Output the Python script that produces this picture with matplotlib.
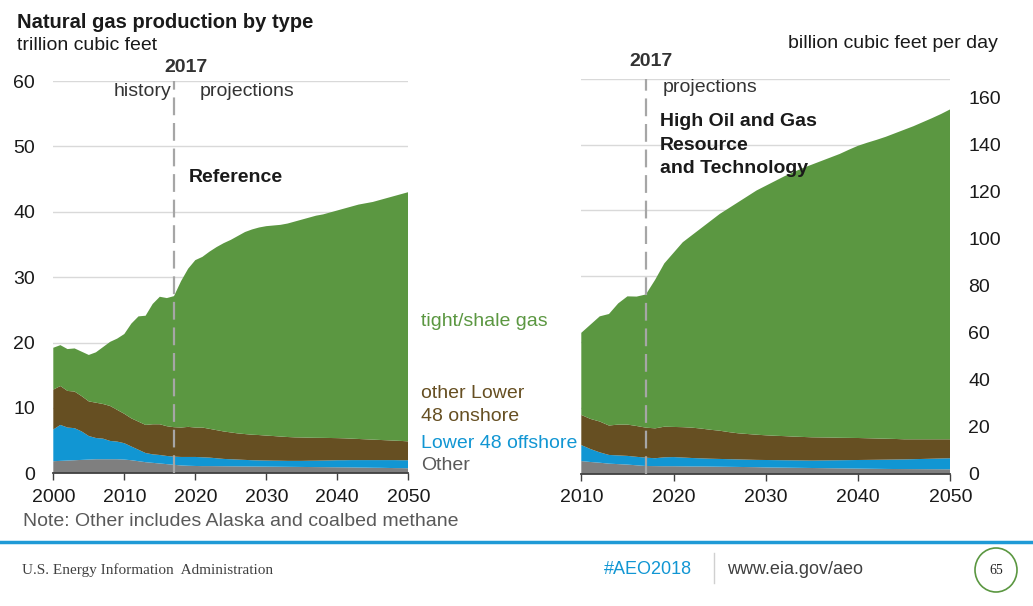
import numpy as np
import matplotlib
matplotlib.use("Agg")
import matplotlib.pyplot as plt
from matplotlib.patches import Ellipse

plt.rcParams['font.family'] = ['Liberation Sans', 'DejaVu Sans']

# ---- reference case, trillion cubic feet ----
years_ref = list(range(2000, 2051))
other_ref = [1.85, 1.9, 1.95, 2.0, 2.05, 2.1, 2.15, 2.15, 2.15, 2.15,
             2.1, 2.0, 1.85, 1.7, 1.6, 1.5, 1.4, 1.3, 1.2, 1.15,
             1.12, 1.1, 1.1, 1.09, 1.08, 1.07, 1.06, 1.05, 1.04, 1.03,
             1.02, 1.01, 1.0, 0.99, 0.98, 0.97, 0.96, 0.95, 0.94, 0.93,
             0.92, 0.91, 0.9, 0.88, 0.87, 0.85, 0.84, 0.82, 0.8, 0.79, 0.77]
offshore_ref = [4.85, 5.5, 5.05, 4.9, 4.35, 3.6, 3.25, 3.15, 2.8, 2.7,
                2.5, 2.1, 1.75, 1.4, 1.3, 1.3, 1.25, 1.25, 1.3, 1.35,
                1.38, 1.35, 1.3, 1.21, 1.12, 1.08, 1.04, 1.0, 0.96, 0.94,
                0.93, 0.92, 0.92, 0.91, 0.92, 0.93, 0.96, 0.98, 1.01, 1.04,
                1.08, 1.09, 1.12, 1.14, 1.15, 1.17, 1.18, 1.2, 1.22, 1.21, 1.23]
onshore_ref = [6.1, 5.95, 5.6, 5.6, 5.4, 5.3, 5.4, 5.3, 5.35, 4.85,
               4.5, 4.3, 4.3, 4.3, 4.6, 4.7, 4.55, 4.5, 4.5, 4.6,
               4.5, 4.55, 4.4, 4.3, 4.2, 4.1, 4.0, 3.95, 3.9, 3.88,
               3.82, 3.77, 3.7, 3.65, 3.6, 3.58, 3.53, 3.5, 3.47, 3.43,
               3.38, 3.35, 3.28, 3.23, 3.18, 3.13, 3.08, 3.03, 2.98, 2.95, 2.88]
shale_ref = [6.4, 6.25, 6.4, 6.6, 6.8, 7.1, 7.7, 8.7, 9.8, 10.9,
             12.2, 14.5, 16.1, 16.7, 18.4, 19.5, 19.6, 20.05, 22.4, 24.2,
             25.6, 26.1, 27.1, 28.0, 28.8, 29.45, 30.2, 30.9, 31.4, 31.75,
             32.03, 32.2, 32.38, 32.65, 33.0, 33.32, 33.65, 33.97, 34.18, 34.5,
             34.82, 35.15, 35.5, 35.85, 36.1, 36.35, 36.7, 37.05, 37.4, 37.75, 38.12]

# ---- high oil and gas resource case, billion cubic feet per day ----
years_hog = list(range(2010, 2051))
other_hog = [5.5, 5.1, 4.8, 4.4, 4.2, 4.0, 3.7, 3.4, 3.35, 3.3,
             3.3, 3.25, 3.2, 3.2, 3.15, 3.1, 3.05, 3.0, 2.95, 2.9,
             2.8, 2.75, 2.7, 2.65, 2.6, 2.55, 2.5, 2.45, 2.4, 2.35,
             2.3, 2.25, 2.2, 2.15, 2.12, 2.1, 2.08, 2.06, 2.04, 2.02, 2.0]
offshore_hog = [6.8, 5.5, 4.4, 3.7, 3.7, 3.7, 3.6, 3.55, 3.35, 3.8,
                3.9, 3.75, 3.6, 3.45, 3.35, 3.3, 3.25, 3.2, 3.15, 3.1,
                3.15, 3.15, 3.15, 3.15, 3.15, 3.15, 3.25, 3.35, 3.45, 3.55,
                3.65, 3.75, 3.85, 3.95, 4.03, 4.1, 4.22, 4.34, 4.46, 4.58, 4.7]
onshore_hog = [12.8, 12.8, 13.1, 12.5, 13.1, 13.3, 13.1, 12.75, 12.7, 13.0,
               12.8, 12.9, 12.9, 12.65, 12.3, 12.0, 11.5, 11.1, 10.9, 10.7,
               10.5, 10.35, 10.25, 10.1, 10.0, 9.9, 9.8, 9.7, 9.55, 9.45,
               9.35, 9.2, 9.05, 8.9, 8.75, 8.55, 8.45, 8.35, 8.25, 8.15, 8.05]
shale_hog = [34.9, 40.1, 44.7, 47.4, 51.5, 54.5, 55.0, 56.6, 63.1, 69.4,
             74.0, 78.6, 81.8, 85.2, 88.7, 92.1, 95.2, 98.2, 101.0, 103.8,
             106.05, 108.25, 110.4, 112.4, 114.25, 115.9, 117.45, 119.0, 120.6, 122.45,
             124.2, 125.6, 126.9, 128.3, 129.9, 131.55, 133.05, 134.75, 136.45, 138.25, 140.25]

tcf_ticks = [0, 10, 20, 30, 40, 50, 60]
bcfd_ticks = [0, 20, 40, 60, 80, 100, 120, 140, 160]

colors = ['#7f7f7f', '#1196d3', '#664f22', '#5b9741']
grid_c = '#d9d9d9'
dash_c = '#a6a6a6'
txt_c = '#1a1a1a'

W, H = 1033, 606
fig = plt.figure(figsize=(W / 100, H / 100), dpi=100)


def box(x0, y0, x1, y1):
    return [x0 / W, 1 - y1 / H, (x1 - x0) / W, (y1 - y0) / H]


def ftext(x, y, s, **kw):
    kw.setdefault('va', 'center')
    kw.setdefault('fontsize', 14)
    kw.setdefault('color', txt_c)
    fig.text(x / W, 1 - y / H, s, **kw)


def style_bottom(ax, ticks):
    for s in ['top', 'right', 'left']:
        ax.spines[s].set_visible(False)
    ax.spines['bottom'].set_visible(True)
    ax.spines['bottom'].set_color('#404040')
    ax.spines['bottom'].set_linewidth(1.3)
    ax.set_xticks(ticks)
    ax.tick_params(axis='x', bottom=True, labelbottom=True, length=5, width=1,
                   color='#404040', labelsize=14, labelcolor=txt_c, pad=6)


# left panel
ax1 = fig.add_axes(box(53.3, 81, 408.3, 473.3))
ax1.stackplot(years_ref, other_ref, offshore_ref, onshore_ref, shale_ref,
              colors=colors, linewidth=0, zorder=2)
ax1.set_xlim(2000, 2050)
ax1.set_ylim(0, 60)
ax1.set_yticks(tcf_ticks)
ax1.grid(axis='y', color=grid_c, lw=1, zorder=0)
ax1.set_axisbelow(True)
ax1.tick_params(axis='y', length=0, labelsize=14, labelcolor=txt_c, pad=13)
style_bottom(ax1, [2000, 2010, 2020, 2030, 2040, 2050])
ax1.axvline(2017, color=dash_c, lw=1.6, dashes=(8, 3.5), zorder=3)

# right panel: grid in trillion cubic feet behind, data in bcf/d on the twin
ax2 = fig.add_axes(box(581.3, 78.7, 950.3, 474))
ax2.set_xlim(2010, 2050)
ax2.set_ylim(0, 60)
ax2.set_yticks(tcf_ticks)
ax2.grid(axis='y', color=grid_c, lw=1)
ax2.tick_params(axis='y', length=0, labelleft=False)
ax2.tick_params(axis='x', labelbottom=False, length=0)
for s in ax2.spines.values():
    s.set_visible(False)

ax3 = ax2.twinx()
ax3.xaxis.set_visible(True)
ax3.stackplot(years_hog, other_hog, offshore_hog, onshore_hog, shale_hog,
              colors=colors, linewidth=0, zorder=2)
ax3.set_xlim(2010, 2050)
ax3.set_ylim(0, 168)
ax3.set_yticks(bcfd_ticks)
ax3.tick_params(axis='y', length=0, labelsize=14, labelcolor=txt_c, pad=13)
style_bottom(ax3, [2010, 2020, 2030, 2040, 2050])
ax3.axvline(2017, color=dash_c, lw=1.6, dashes=(8, 3.5), zorder=3)

# titles and annotations
ftext(17, 22, 'Natural gas production by type', fontweight='bold', fontsize=14.5)
ftext(17, 46, 'trillion cubic feet')
ftext(186, 68, '2017', fontweight='bold', ha='center', color='#333333')
ftext(171, 92, 'history', ha='right', color='#333333')
ftext(200, 92, 'projections', color='#333333')
ftext(189, 177, 'Reference', fontweight='bold')

ftext(998, 44, 'billion cubic feet per day', ha='right')
ftext(651, 62, '2017', fontweight='bold', ha='center', color='#333333')
ftext(663, 88, 'projections', color='#333333')
ftext(660, 145, 'High Oil and Gas\nResource\nand Technology', fontweight='bold',
      linespacing=1.5)

ftext(421, 321, 'tight/shale gas', color=colors[3])
ftext(421, 405, 'other Lower\n48 onshore', color=colors[2], linespacing=1.4)
ftext(421, 443, 'Lower 48 offshore', color=colors[1])
ftext(421, 466, 'Other', color='#595959')
ftext(23, 522, 'Note: Other includes Alaska and coalbed methane', color='#595959')

# footer
fig.add_artist(plt.Line2D([0, 1], [1 - 542 / H, 1 - 542 / H], color='#1f9ad6', lw=2.5))
fig.add_artist(plt.Line2D([714 / W, 714 / W], [1 - 553 / H, 1 - 583 / H], color='#d0d0d0', lw=1))
ftext(22, 570, 'U.S. Energy Information  Administration', fontsize=11,
      family='Liberation Serif', color='#404040')
ftext(604, 570, '#AEO2018', fontsize=13, color='#1196d3')
ftext(727, 570, 'www.eia.gov/aeo', fontsize=13, color='#404040')
fig.add_artist(Ellipse((996 / W, 1 - 570 / H), 42 / W, 44 / H, fill=False,
                       edgecolor='#5b9741', lw=1.2))
ftext(996, 570, '65', fontsize=10, ha='center', family='Liberation Serif', color='#262626')

fig.savefig('out.png', dpi=100)
